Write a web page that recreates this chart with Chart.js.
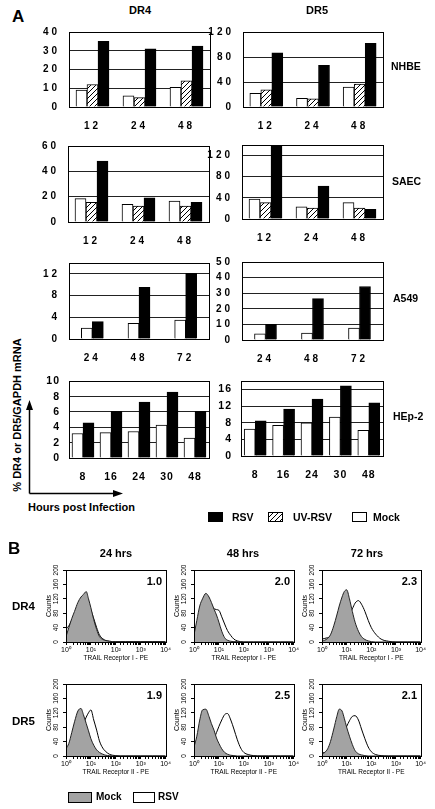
<!DOCTYPE html>
<html>
<head>
<meta charset="utf-8">
<script src="https://cdn.jsdelivr.net/npm/chart.js@4.4.1/dist/chart.umd.min.js"></script>
<style>
  body { margin: 0; background: #fff; }
  #fig { position: relative; width: 435px; height: 809px; overflow: hidden;
         font-family: 'Liberation Sans', Arial, sans-serif; font-weight: bold; color: #000; }
  #fig canvas { position: absolute; }
  .t { position: absolute; white-space: nowrap; line-height: 1; }
  .sq { position: absolute; border: 1px solid #000; box-sizing: border-box; }
</style>
</head>
<body>
<div id="fig"></div>
<script>
// ---- panel A: % DR4 or DR5 / GAPDH mRNA ----
const hoursA = ['12', '24', '48'];
const hoursA549 = ['24', '48', '72'];
const hoursHep = ['8', '16', '24', '30', '48'];

const nhbeDr4Mock = [9, 6, 10.5];
const nhbeDr4Uv = [12, 5, 14];
const nhbeDr4Rsv = [35, 31, 32.5];
const nhbeDr5Mock = [22, 14, 32];
const nhbeDr5Uv = [27.5, 13, 36.5];
const nhbeDr5Rsv = [86.5, 66.5, 102];

const saecDr4Mock = [18.5, 14, 16.5];
const saecDr4Uv = [15.5, 12.5, 12.5];
const saecDr4Rsv = [48, 19, 15.5];
const saecDr5Mock = [37.5, 23, 31];
const saecDr5Uv = [31, 20.5, 20.5];
const saecDr5Rsv = [140, 62.5, 18.5];

const a549Dr4Mock = [2, 2.9, 3.5];
const a549Dr4Rsv = [3.2, 9.5, 12.1];
const a549Dr5Mock = [3.9, 4.5, 7.6];
const a549Dr5Rsv = [10, 26.5, 34.3];

const hepDr4Mock = [3.2, 3.3, 3.45, 4.3, 2.6];
const hepDr4Rsv = [4.6, 6.1, 7.3, 8.6, 6.1];
const hepDr5Mock = [6.5, 7.4, 8, 9.4, 6.2];
const hepDr5Rsv = [8.5, 11.3, 13.7, 16.9, 12.8];

// ---- panel B: flow cytometry histograms ----
const flX = [1, 1.3, 1.7, 2.2, 3, 4, 5, 6.5, 8, 10, 13, 17, 22, 30, 40, 55, 75, 100, 150, 250, 500, 1000, 3000, 10000];
const dr4Mock24 = [15, 40, 65, 85, 110, 125, 132, 140, 120, 95, 62, 35, 15, 7, 4, 2, 1, 1, 1, 1, 1, 1, 1, 1];
const dr4Rsv24 = [35, 45, 60, 75, 92, 100, 105, 108, 100, 88, 65, 40, 20, 9, 4, 2, 1, 1, 1, 1, 1, 1, 1, 1];
const dr4Mock48 = [20, 60, 100, 120, 135, 125, 110, 90, 75, 55, 30, 12, 5, 2, 1, 1, 0, 0, 0, 0, 0, 0, 0, 0];
const dr4Rsv48 = [15, 30, 50, 70, 88, 95, 95, 92, 90, 88, 70, 50, 32, 18, 8, 3, 1, 0, 0, 0, 0, 0, 0, 0];
const dr4Mock72 = [3, 5, 10, 20, 45, 75, 100, 125, 140, 145, 120, 85, 55, 30, 15, 7, 3, 1, 0, 0, 0, 0, 0, 0];
const dr4Rsv72 = [8, 10, 12, 14, 16, 20, 28, 38, 50, 62, 78, 92, 108, 115, 105, 85, 60, 40, 22, 8, 2, 0, 0, 0];
const dr5Mock24 = [20, 35, 65, 95, 125, 132, 115, 90, 70, 48, 30, 17, 10, 5, 2, 1, 0, 0, 0, 0, 0, 0, 0, 0];
const dr5Rsv24 = [15, 18, 22, 30, 45, 72, 90, 108, 120, 128, 100, 72, 42, 22, 12, 5, 2, 1, 0, 0, 0, 0, 0, 0];
const dr5Mock48 = [25, 55, 100, 128, 130, 110, 90, 70, 50, 35, 20, 10, 5, 2, 1, 0, 0, 0, 0, 0, 0, 0, 0, 0];
const dr5Rsv48 = [10, 12, 15, 18, 22, 30, 38, 50, 65, 82, 100, 115, 118, 100, 75, 45, 22, 10, 4, 1, 0, 0, 0, 0];
const dr5Mock72 = [5, 10, 20, 40, 75, 110, 130, 125, 105, 80, 55, 32, 15, 6, 3, 1, 0, 0, 0, 0, 0, 0, 0, 0];
const dr5Rsv72 = [8, 10, 12, 15, 20, 28, 38, 52, 68, 82, 98, 110, 112, 100, 75, 48, 25, 12, 4, 1, 0, 0, 0, 0];

const foldDr4 = ['1.0', '2.0', '2.3'];
const foldDr5 = ['1.9', '2.5', '2.1'];
const decadeLabels = ['10⁰', '10¹', '10²', '10³', '10⁴'];

Chart.defaults.font.family = "'Liberation Sans', Arial, sans-serif";
Chart.defaults.color = '#000';

const fig = document.getElementById('fig');

function addCanvas(x, y, w, h) {
    const c = document.createElement('canvas');
    c.width = w; c.height = h;
    c.style.left = x + 'px'; c.style.top = y + 'px';
    c.style.width = w + 'px'; c.style.height = h + 'px';
    fig.appendChild(c);
    return c;
}

function text(str, x, y, size, align) {
    const d = document.createElement('div');
    d.className = 't';
    d.textContent = str;
    d.style.left = x + 'px';
    d.style.top = y + 'px';
    d.style.fontSize = size + 'px';
    d.style.transform = align === 'left' ? 'translate(0,-50%)' : align === 'right' ? 'translate(-100%,-50%)' : 'translate(-50%,-50%)';
    fig.appendChild(d);
    return d;
}

function square(x, y, w, h, bg) {
    const d = document.createElement('div');
    d.className = 'sq';
    Object.assign(d.style, { left: x + 'px', top: y + 'px', width: w + 'px', height: h + 'px', background: bg });
    fig.appendChild(d);
}

function makeHatch() {
    const p = document.createElement('canvas');
    p.width = 5; p.height = 5;
    const g = p.getContext('2d');
    g.fillStyle = '#fff';
    g.fillRect(0, 0, 5, 5);
    g.strokeStyle = '#000';
    g.lineWidth = 1;
    g.beginPath();
    g.moveTo(0, 5); g.lineTo(5, 0);
    g.moveTo(-1, 1); g.lineTo(1, -1);
    g.moveTo(4, 6); g.lineTo(6, 4);
    g.stroke();
    return g.createPattern(p, 'repeat');
}

const barFill = { mock: '#fff', uv: makeHatch(), rsv: '#000' };

const framePlugin = {
    id: 'frame',
    afterDraw(chart) {
        const { ctx, chartArea: a } = chart;
        ctx.save();
        ctx.strokeStyle = '#000';
        ctx.lineWidth = 1;
        const l = Math.round(a.left), t = Math.round(a.top);
        ctx.strokeRect(l + 0.5, t + 0.5, Math.round(a.right) - l, Math.round(a.bottom) - t);
        ctx.restore();
    }
};

function spacedText(px) {
    return { id: 'spaced', beforeDraw(chart) { chart.ctx.letterSpacing = px + 'px'; } };
}

// box = plot area [left, top, right, bottom] on the page
function barChart(box, labels, series, yMax, yStep, spacing, fontSize) {
    const [l, t, r, b] = box;
    const c = addCanvas(l - 40, t - 6, r - l + 46, b - t + 28);
    const tickFont = { size: fontSize, weight: 'bold' };
    new Chart(c, {
        type: 'bar',
        data: {
            labels,
            datasets: series.map(([kind, data]) => ({
                data,
                backgroundColor: barFill[kind],
                borderColor: '#000',
                borderWidth: 1,
                barThickness: 11
            }))
        },
        options: {
            responsive: false,
            animation: false,
            devicePixelRatio: 1,
            layout: { padding: { top: 6, right: 6 } },
            plugins: { legend: { display: false }, tooltip: { enabled: false } },
            scales: {
                x: {
                    grid: { display: false },
                    border: { color: '#000' },
                    ticks: { font: tickFont, padding: 5, maxRotation: 0, autoSkip: false },
                    afterFit: s => { s.height = 22; }
                },
                y: {
                    min: 0,
                    max: yMax,
                    ticks: { stepSize: yStep, includeBounds: false, padding: 9, font: tickFont, autoSkip: false },
                    grid: { color: '#222', drawTicks: false },
                    border: { color: '#000' },
                    afterFit: s => { s.width = 40; }
                }
            }
        },
        plugins: [framePlugin, spacedText(spacing)]
    });
}

function histChart(box, mock, rsv, xTitle) {
    const [l, t, r, b] = box;
    const c = addCanvas(l - 26, t - 7, r - l + 32, b - t + 31);
    new Chart(c, {
        type: 'line',
        data: {
            datasets: [
                {
                    data: flX.map((x, i) => ({ x, y: mock[i] })),
                    borderColor: '#222', borderWidth: 1, backgroundColor: '#a3a3a3',
                    fill: 'origin', pointRadius: 0, cubicInterpolationMode: 'monotone'
                },
                {
                    data: flX.map((x, i) => ({ x, y: rsv[i] })),
                    borderColor: '#000', borderWidth: 1, fill: false,
                    pointRadius: 0, cubicInterpolationMode: 'monotone'
                }
            ]
        },
        options: {
            responsive: false,
            animation: false,
            devicePixelRatio: 1,
            layout: { padding: { top: 7, right: 6 } },
            plugins: { legend: { display: false }, tooltip: { enabled: false } },
            scales: {
                x: {
                    type: 'logarithmic', min: 1, max: 10000,
                    grid: { drawOnChartArea: false, tickLength: 3, color: '#000' },
                    border: { color: '#000' },
                    ticks: {
                        autoSkip: false, maxRotation: 0, padding: 1, font: { size: 7 },
                        callback: v => {
                            const e = Math.log10(v);
                            return Math.abs(e - Math.round(e)) < 1e-6 ? decadeLabels[Math.round(e)] : '';
                        }
                    },
                    title: { display: true, text: xTitle, font: { size: 6.5 }, padding: { top: 0, bottom: 4 } },
                    afterFit: s => { s.height = 24; }
                },
                y: {
                    min: 0, max: 200,
                    ticks: { stepSize: 40, minRotation: 90, maxRotation: 90, crossAlign: 'center', padding: 1, font: { size: 6.5 }, autoSkip: false },
                    grid: { drawOnChartArea: false, tickLength: 3, color: '#000' },
                    border: { color: '#000' },
                    title: { display: true, text: 'Counts', font: { size: 7 }, padding: { top: 5, bottom: 0 } },
                    afterFit: s => { s.width = 26; }
                }
            }
        },
        plugins: [framePlugin]
    });
}

// ---- panel A charts ----
barChart([69, 23, 210, 107], hoursA, [['mock', nhbeDr4Mock], ['uv', nhbeDr4Uv], ['rsv', nhbeDr4Rsv]], 40, 10, 3, 10);
barChart([243, 23, 383, 107], hoursA, [['mock', nhbeDr5Mock], ['uv', nhbeDr5Uv], ['rsv', nhbeDr5Rsv]], 120, 40, 3, 10);
barChart([68, 137, 209, 222], hoursA, [['mock', saecDr4Mock], ['uv', saecDr4Uv], ['rsv', saecDr4Rsv]], 60, 20, 3, 10);
barChart([242, 136, 383, 219], hoursA, [['mock', saecDr5Mock], ['uv', saecDr5Uv], ['rsv', saecDr5Rsv]], 140, 40, 3, 10);
barChart([69, 254, 209, 339], hoursA549, [['mock', a549Dr4Mock], ['rsv', a549Dr4Rsv]], 14, 4, 3, 10);
barChart([242, 253, 383, 340], hoursA549, [['mock', a549Dr5Mock], ['rsv', a549Dr5Rsv]], 50, 10, 3, 10);
barChart([69, 372, 209, 458], hoursHep, [['mock', hepDr4Mock], ['rsv', hepDr4Rsv]], 10, 2, 1, 10.5);
barChart([241, 372, 383, 456], hoursHep, [['mock', hepDr5Mock], ['rsv', hepDr5Rsv]], 18, 4, 1, 10.5);

text('A', 12, 16, 17, 'left');
text('DR4', 140, 10, 11);
text('DR5', 317, 10, 11);
text('NHBE', 391, 66, 10.5, 'left');
text('SAEC', 392, 181, 10.5, 'left');
text('A549', 393, 298, 10.5, 'left');
text('HEp-2', 393, 416, 10.5, 'left');

const yTitle = text('% DR4 or DR5/GAPDH mRNA', 17, 415, 11);
yTitle.style.transform = 'translate(-50%,-50%) rotate(-90deg)';
text('Hours post Infection', 28, 507, 11, 'left');

fig.insertAdjacentHTML('beforeend',
    '<svg style="position:absolute;left:0;top:0" width="435" height="809">' +
    '<path d="M29.5 493.5 V408 M29.5 493.5 H114" stroke="#000" stroke-width="1.5" fill="none"/>' +
    '<path d="M29.5 400 L26 410 L33 410 Z M123 493.5 L113 490 L113 497 Z" fill="#000"/>' +
    '</svg>');

square(208, 512, 15, 10, '#000');
text('RSV', 232, 517, 10.5, 'left');
square(268, 512, 15, 10, 'repeating-linear-gradient(135deg, #fff 0 2.5px, #000 2.5px 3.5px)');
text('UV-RSV', 293, 517, 10.5, 'left');
square(352, 512, 15, 10, '#fff');
text('Mock', 373, 517, 10.5, 'left');

// ---- panel B charts ----
const histCols = [[66, 166], [194, 294], [322, 421]];
const dr4Sets = [[dr4Mock24, dr4Rsv24], [dr4Mock48, dr4Rsv48], [dr4Mock72, dr4Rsv72]];
const dr5Sets = [[dr5Mock24, dr5Rsv24], [dr5Mock48, dr5Rsv48], [dr5Mock72, dr5Rsv72]];

histCols.forEach(([l, r], i) => {
    histChart([l, 570, r, 642], dr4Sets[i][0], dr4Sets[i][1], 'TRAIL Receptor I - PE');
    histChart([l, 684, r, 756], dr5Sets[i][0], dr5Sets[i][1], 'TRAIL Receptor II - PE');
    text(foldDr4[i], r - 4, 581, 11, 'right');
    text(foldDr5[i], r - 4, 695, 11, 'right');
});

text('B', 8, 548, 17, 'left');
text('24 hrs', 116, 553, 11);
text('48 hrs', 243, 553, 11);
text('72 hrs', 367, 553, 11);
text('DR4', 12, 607, 11.5, 'left');
text('DR5', 12, 722, 11.5, 'left');

square(68, 792, 24, 11, '#a3a3a3');
text('Mock', 96, 797, 10, 'left');
square(133, 792, 22, 11, '#fff');
text('RSV', 158, 797, 10, 'left');
</script>
</body>
</html>
